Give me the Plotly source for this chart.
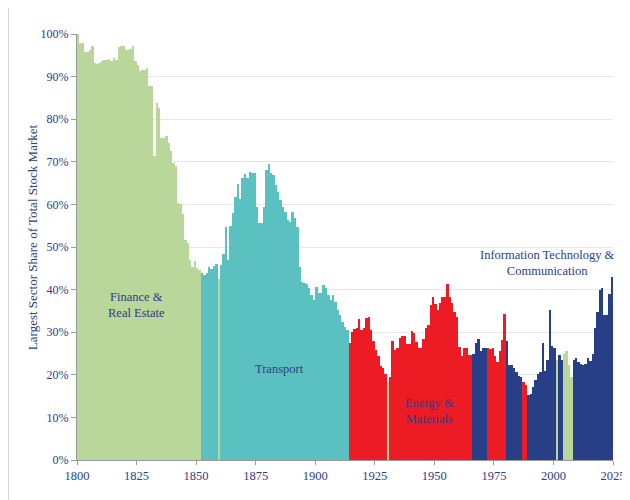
import plotly.graph_objects as go

# largest sector share of total US stock market, one value per year 1800-2024 (%)
years = list(range(1800, 2025))
share = [
    # 1800s
    100, 98, 98, 95.8, 95.8, 96.3, 97.3, 93.2, 93.0, 93.3,
    93.6, 93.8, 94.0, 94.2, 93.6, 94.4, 94.0, 96.9, 97.1, 97.1,
    96.3, 96.3, 96.5, 97.3, 93.6, 92.8, 91.2, 91.6, 91.6, 92.0,
    87.7, 87.7, 71.3, 83.8, 82.6, 75.5, 75.5, 76.0, 74.5, 72.5,
    69.7, 68.9, 60.3, 60.0, 57.8, 51.6, 51.0, 46.9, 45.3, 46.8,
    45.0, 44.5, 43.8, 43.4, 44.0, 45.3, 44.9, 45.5, 46.1, 42.6,
    45.7, 48.3, 54.7, 46.9, 54.9, 57.9, 61.8, 64.9, 61.2, 66.1,
    67.1, 66.1, 67.7, 67.4, 67.4, 59.4, 55.7, 55.7, 59.4, 68.0,
    69.5, 67.4, 66.9, 64.5, 63.0, 61.0, 59.4, 58.3, 56.3, 55.9,
    58.3, 56.7, 54.8, 45.4, 41.9, 41.5, 41.3, 40.3, 38.7, 37.6,
    # 1900s
    40.5, 39.3, 39.3, 41.1, 40.3, 38.7, 37.6, 38.7, 37.2, 35.2,
    34.0, 32.5, 31.3, 30.5, 27.4, 30.1, 30.7, 30.9, 33.0, 30.5,
    30.9, 33.3, 33.6, 30.5, 28.0, 25.8, 24.3, 22.0, 21.7, 20.3,
    18.4, 19.4, 28.0, 25.8, 26.4, 28.6, 29.1, 29.0, 27.2, 27.2,
    30.4, 29.8, 27.8, 26.4, 26.4, 28.3, 31.1, 31.7, 36.5, 38.2,
    36.6, 35.2, 36.8, 38.3, 38.3, 41.3, 38.3, 36.8, 34.8, 33.5,
    26.6, 24.4, 26.2, 26.4, 24.6, 24.6, 25.0, 27.4, 28.3, 25.5,
    26.2, 26.2, 26.2, 26.0, 26.2, 24.3, 23.1, 25.5, 28.2, 34.3,
    28.0, 22.3, 22.3, 21.5, 20.7, 19.7, 19.5, 18.4, 17.5, 15.3,
    15.5, 17.2, 18.8, 20.3, 20.7, 27.4, 21.0, 23.5, 35.2, 26.8,
    # 2000s
    26.2, 23.5, 24.6, 23.5, 25.0, 25.5, 22.3, 19.4, 23.5, 23.9,
    23.1, 22.6, 22.3, 22.6, 23.9, 23.2, 25.0, 31.1, 34.8, 39.9,
    40.3, 34.0, 34.0, 39.0, 43.0,
]

# which sector was largest: (sector, first year, last year)
sector_runs = [
    ("fin", 1800, 1851), ("trn", 1852, 1858), ("fin", 1859, 1859),
    ("trn", 1860, 1913), ("ene", 1914, 1929), ("fin", 1930, 1930),
    ("ene", 1931, 1965), ("it", 1966, 1971), ("ene", 1972, 1979),
    ("it", 1980, 1986), ("ene", 1987, 1988), ("it", 1989, 2000),
    ("fin", 2001, 2001), ("it", 2002, 2003), ("fin", 2004, 2007),
    ("it", 2008, 2024),
]

colors = {"fin": "#B9D69B", "trn": "#5BC1C0", "ene": "#ED1C24", "it": "#263F86"}

labels = ["Finance &<br>Real Estate", "Transport", "Energy &<br>Materials",
          "Information Technology &<br>Communication"]
label_x = [1825, 1885, 1948, 1997.5]
label_y = [36.5, 21.4, 11.4, 46.2]

txt = "#2C3E84"
font = "Liberation Serif"

sector_of = {}
for s, a, b in sector_runs:
    for yr in range(a, b + 1):
        sector_of[yr] = s

fig = go.Figure()
for s in colors:
    xs = [yr for yr in years if sector_of[yr] == s]
    ys = [v for yr, v in zip(years, share) if sector_of[yr] == s]
    fig.add_trace(go.Bar(
        x=xs, y=ys, width=1, offset=0,
        marker=dict(color=colors[s], line=dict(width=0)),
        showlegend=False, hoverinfo="x+y",
    ))

for t, x, y in zip(labels, label_x, label_y):
    fig.add_annotation(x=x, y=y, text=t, showarrow=False,
                       font=dict(family=font, size=12.5, color=txt))

fig.add_annotation(
    text="Largest Sector Share of Total Stock Market",
    xref="paper", yref="paper", x=-0.084, y=0.523, textangle=-90,
    xanchor="center", yanchor="middle",
    showarrow=False, font=dict(family=font, size=13, color=txt),
)

# thin frame line at left edge of the original graphic
fig.add_shape(type="line", xref="paper", yref="paper",
              x0=-0.128, x1=-0.128, y0=-0.2, y1=1.1,
              line=dict(color="#D0D0D0", width=1))

fig.update_layout(
    width=630, height=500,
    margin=dict(l=69, r=25, t=26, b=48),
    plot_bgcolor="white", paper_bgcolor="white",
    bargap=0, barmode="overlay",
    font=dict(family=font, size=12, color=txt),
)
fig.update_xaxes(
    range=[1800, 2025], tickvals=[1800, 1825, 1850, 1875, 1900, 1925, 1950, 1975, 2000, 2025],
    showgrid=False, showline=True, linecolor="#9A9A9A", linewidth=1,
    ticks="outside", ticklen=4, tickcolor="#9A9A9A",
    tickfont=dict(family=font, size=12.5, color=txt), zeroline=False,
)
fig.update_yaxes(
    range=[0, 100], tickvals=list(range(0, 101, 10)),
    ticktext=[f"{v}%" for v in range(0, 101, 10)],
    showgrid=True, gridcolor="#E6E6E6", gridwidth=1,
    showline=True, linecolor="#9A9A9A", linewidth=1,
    ticks="outside", ticklen=5, tickcolor="#9A9A9A",
    tickfont=dict(family=font, size=12, color=txt), zeroline=False,
)

fig.write_html("out.html")
